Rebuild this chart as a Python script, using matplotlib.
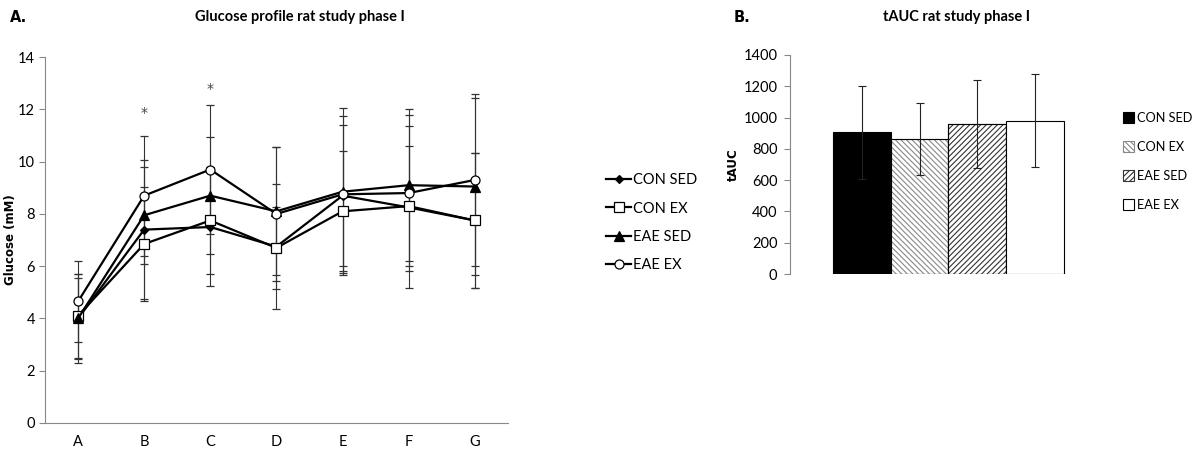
import numpy as np
import matplotlib
matplotlib.use("Agg")
from matplotlib import pyplot as plt
from matplotlib.lines import Line2D

plt.rcParams['font.family'] = ['Lato', 'DejaVu Sans']
plt.rcParams['hatch.linewidth'] = 0.8

# glucose profile (mM) per time point
times = ["A", "B", "C", "D", "E", "F", "G"]
con_sed = [4.0, 7.4, 7.5, 6.75, 8.7, 8.25, 7.75]
con_sed_err = [1.7, 2.65, 2.25, 2.4, 2.7, 3.1, 2.6]
con_ex = [4.1, 6.85, 7.75, 6.7, 8.1, 8.3, 7.75]
con_ex_err = [1.6, 2.2, 2.05, 1.57, 2.3, 2.3, 2.6]
eae_sed = [4.0, 7.95, 8.7, 8.1, 8.85, 9.1, 9.05]
eae_sed_err = [1.55, 1.85, 2.25, 2.45, 3.2, 2.9, 3.4]
eae_ex = [4.65, 8.7, 9.7, 8.0, 8.75, 8.8, 9.3]
eae_ex_err = [1.55, 2.3, 2.45, 2.55, 3.0, 3.0, 3.3]
star_pos = {"B": 11.85, "C": 12.8}

# tAUC
groups = ["CON SED", "CON EX", "EAE SED", "EAE EX"]
tauc = [905, 865, 960, 980]
tauc_err = [295, 230, 280, 295]

fig = plt.figure(figsize=(11.96, 4.5), dpi=100)

# ---- panel A
ax = fig.add_axes([0.0376, 0.06, 0.387, 0.813])
x = np.arange(len(times))
series = [
    ("CON SED", con_sed, con_sed_err, dict(marker="D", mfc="black", ms=4.5)),
    ("CON EX", con_ex, con_ex_err, dict(marker="s", mfc="white", ms=6.5)),
    ("EAE SED", eae_sed, eae_sed_err, dict(marker="^", mfc="black", ms=6.5)),
    ("EAE EX", eae_ex, eae_ex_err, dict(marker="o", mfc="white", ms=6.5)),
]
handles = []
for name, y, err, st in series:
    ax.errorbar(x, y, yerr=err, color="black", lw=1.6, mec="black", mew=0.9,
                ecolor="#333333", elinewidth=0.8, capsize=3, capthick=0.8, **st)
    handles.append(Line2D([], [], color="black", lw=1.6, mec="black", mew=0.9, label=name, **st))
for k, v in star_pos.items():
    ax.text(times.index(k), v, "*", ha="center", va="center", fontsize=10,
            family="DejaVu Sans", color="#444444")

ax.set_xlim(-0.5, len(times) - 0.5)
ax.set_ylim(0, 14)
ax.set_yticks(range(0, 15, 2))
ax.set_xticks(x)
ax.set_xticklabels(times)
ax.tick_params(axis="x", length=0, pad=9, labelsize=10.5)
ax.tick_params(axis="y", length=4, labelsize=10.5, color="#888888", pad=3)
for s in ["top", "right"]:
    ax.spines[s].set_visible(False)
ax.spines["left"].set_color("#888888")
ax.spines["bottom"].set_color("#888888")
ax.set_ylabel("Glucose (mM)", fontsize=8.5, fontweight="bold", family="DejaVu Sans")
ax.yaxis.set_label_coords(-0.0605, 0.5)
ax.legend(handles=handles, loc="upper left", bbox_to_anchor=(1.1965, 0.703), frameon=False,
          borderpad=0, fontsize=10.5, handlelength=1.71, handletextpad=0.15, labelspacing=0.99)

fig.text(0.008, 0.962, "A.", fontsize=10.5, fontweight="bold", family="DejaVu Sans", va="center")
fig.text(0.251, 0.962, "Glucose profile rat study phase I", fontsize=10.5, fontweight="bold", ha="center", va="center")

# ---- panel B
bx = fig.add_axes([0.6605, 0.391, 0.265, 0.487])
hatches = [None, "\\\\\\\\\\\\", "//////", None]
faces = ["black", "white", "white", "white"]
hcol = [None, "#888888", "#333333", None]
xb = np.arange(len(groups))
for i in range(len(groups)):
    b = bx.bar(xb[i], tauc[i], width=1.0, color=faces[i], edgecolor="black", lw=0.8,
               hatch=hatches[i], label=groups[i])
    if hcol[i]:
        b[0].set_edgecolor(hcol[i])
        bx.bar(xb[i], tauc[i], width=1.0, color="none", edgecolor="black", lw=0.8)
bx.errorbar(xb, tauc, yerr=tauc_err, fmt="none", ecolor="#222222", elinewidth=0.8, capsize=3, capthick=0.8)

bx.set_xlim(-1.245, 4.245)
bx.set_ylim(0, 1400)
bx.set_yticks(range(0, 1401, 200))
bx.set_xticks([])
bx.tick_params(axis="y", length=4, labelsize=10.5, color="#888888", pad=5)
for s in ["top", "right", "bottom"]:
    bx.spines[s].set_visible(False)
bx.spines["left"].set_color("#888888")
bx.set_ylabel("tAUC", fontsize=8.5, fontweight="bold", family="DejaVu Sans")
bx.yaxis.set_label_coords(-0.158, 0.5)
bx.legend(loc="upper left", bbox_to_anchor=(1.03, 0.767), frameon=False, borderpad=0, fontsize=9.2,
          handlelength=0.9, handleheight=0.95, handletextpad=0.25, labelspacing=1.33)

fig.text(0.613, 0.962, "B.", fontsize=10.5, fontweight="bold", family="DejaVu Sans", va="center")
fig.text(0.800, 0.962, "tAUC rat study phase I", fontsize=10.5, fontweight="bold", ha="center", va="center")

fig.savefig("out.png", dpi=100)
